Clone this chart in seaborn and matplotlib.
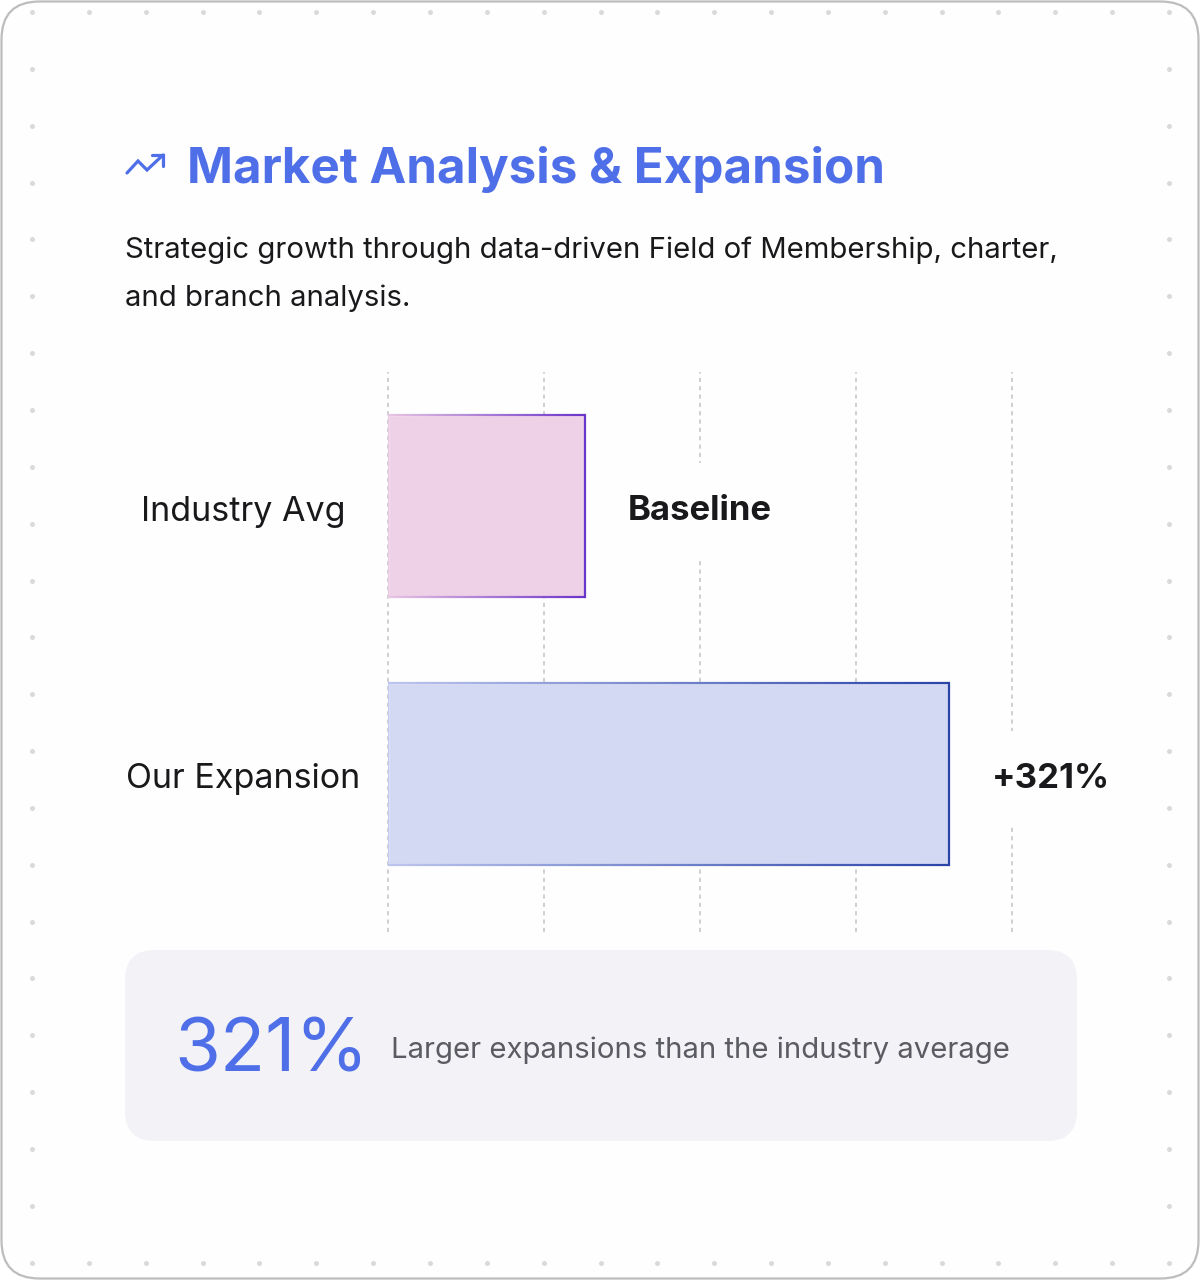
"""Market analysis card: horizontal bars with a stat panel underneath."""

import numpy as np
import pandas as pd
import matplotlib
matplotlib.use('Agg')
import matplotlib.pyplot as plt
import seaborn as sns
from matplotlib.collections import LineCollection
from matplotlib.colors import LinearSegmentedColormap
from matplotlib.patches import FancyBboxPatch
from matplotlib.transforms import ScaledTranslation

# ==================== DATA ====================
categories = ['Industry Avg', 'Our Expansion']
bar_values = [31.6, 89.9]
bar_labels = ['Baseline', '+321%']
grid_ticks = [0, 25, 50, 75, 100]
title = 'Market Analysis & Expansion'
subtitle = ['Strategic growth through data-driven Field of Membership, charter,',
            'and branch analysis.']
stat_value = '321%'
stat_text = 'Larger expansions than the industry average'

BLUE = '#4f6fe8'
INK = '#19191c'
PLATE = '#fefefe'
fills = ['#eed0e7', '#d4d9f3']
edge_starts = ['#e6c4e2', '#bcc5ee']
edge_ends = ['#6a35c9', '#2a44a8']

W, H = 1200, 1280


def px_axes(fig, left, top, right, bottom):
    """Add axes from pixel bounds measured from the top left corner."""
    return fig.add_axes([left / W, 1 - bottom / H, (right - left) / W, (bottom - top) / H])


def draw_card(bg):
    """Card outline and dotted edge."""
    bg.set_xlim(0, W)
    bg.set_ylim(H, 0)
    bg.axis('off')
    bg.add_patch(FancyBboxPatch((1.5, 1.5), W - 3, H - 3, boxstyle='round,pad=0,rounding_size=38',
                                fc=PLATE, ec='#bdbdbd', lw=1.6))
    xs = 32 + 56.85 * np.arange(21)
    ys = 12 + 56.85 * np.arange(23)
    dot_x = np.r_[xs, xs, np.full(21, xs[0]), np.full(21, xs[-1])]
    dot_y = np.r_[np.full(21, ys[0]), np.full(21, ys[-1]), ys[1:-1], ys[1:-1]]
    bg.scatter(dot_x, dot_y, s=13, color='#dadada', linewidths=0)


def draw_header(bg):
    """Trend icon, title and two line subtitle."""
    bg.plot([127, 138, 147, 163], [173, 161, 170, 155], color=BLUE, lw=2.3, solid_joinstyle='miter')
    bg.plot([152, 163, 163], [155, 155, 166], color=BLUE, lw=2.3, solid_joinstyle='miter')
    bg.text(187, 164.5, title, color=BLUE, fontsize=35.5, fontweight='bold', va='center_baseline')
    for text, y in zip(subtitle, [247, 295]):
        bg.text(125, y, text, color=INK, fontsize=21.1, va='center_baseline')


def draw_bars(ax):
    """Bars, dashed guides and labels, all on the data scale."""
    df = pd.DataFrame({'category': categories, 'value': bar_values})
    sns.barplot(data=df, y='category', x='value', hue='category', palette=fills, saturation=1,
                width=0.68, legend=False, ax=ax, zorder=3)
    ax.set_xlim(grid_ticks[0], grid_ticks[-1])
    ax.set_ylim(1.59, -0.5)
    ax.set_xlabel('')
    ax.set_ylabel('')
    ax.set_xticks(grid_ticks)
    ax.tick_params(axis='x', length=0, labelbottom=False)
    ax.tick_params(axis='y', length=0, pad=104, labelsize=24.5, labelcolor=INK)
    nudge = ScaledTranslation(0, -1.5 / 72, ax.figure.dpi_scale_trans)
    for label in ax.get_yticklabels():
        label.set_ha('center')
        label.set_va('center_baseline')
        label.set_transform(label.get_transform() + nudge)
    for spine in ax.spines.values():
        spine.set_visible(False)
    ax.patch.set_alpha(0)
    ax.grid(False)
    for tick in grid_ticks:
        ax.axvline(tick, color='#c9c5cc', lw=1.2, ls=(0, (2.5, 2.5)), zorder=1, clip_on=False)

    # gradient outline, light at the left end and dark at the right
    for patch, start, end in zip(ax.patches, edge_starts, edge_ends):
        cmap = LinearSegmentedColormap.from_list('edge', [start, end])
        x0, x1 = patch.get_x(), patch.get_x() + patch.get_width()
        y0, y1 = patch.get_y(), patch.get_y() + patch.get_height()
        steps = np.linspace(x0, x1, 120)
        for y in (y0, y1):
            segs = np.stack([np.c_[steps[:-1], np.full(119, y)], np.c_[steps[1:], np.full(119, y)]], axis=1)
            ax.add_collection(LineCollection(segs, colors=cmap(np.linspace(0, 1, 119)), lw=1.6, zorder=4))
        ax.plot([x1, x1], [y0, y1], color=end, lw=1.6, zorder=4, solid_capstyle='projecting')
        ax.plot([x0, x0], [y0, y1], color=start, lw=1.3, zorder=4)

    # bar end labels sit on a white plate that breaks the guide behind them
    for pos, (value, label) in enumerate(zip(bar_values, bar_labels)):
        ax.annotate(label, (value, pos), xytext=(31, -0.8), textcoords='offset points',
                    ha='left', va='center_baseline', fontsize=25, fontweight='bold', color=INK,
                    zorder=5, bbox=dict(fc=PLATE, ec='none', pad=23), annotation_clip=False)


def draw_stat(bg):
    """Rounded panel with the big number."""
    bg.add_patch(FancyBboxPatch((125, 950), 952, 191, boxstyle='round,pad=0,rounding_size=30',
                                fc='#f3f2f6', ec='none'))
    bg.text(174, 1045, stat_value, color=BLUE, fontsize=53.5, va='center_baseline')
    bg.text(391, 1047, stat_text, color='#5b5b63', fontsize=21.1, va='center_baseline')


def main():
    sns.set_theme(style='white')
    plt.rcParams['font.family'] = ['Inter', 'DejaVu Sans']
    fig = plt.figure(figsize=(12, 12.8), dpi=100, facecolor='white')
    bg = px_axes(fig, 0, 0, W, H)
    draw_card(bg)
    draw_header(bg)
    draw_stat(bg)
    ax = px_axes(fig, 388, 372, 1012, 932)
    draw_bars(ax)
    fig.savefig('out.png', dpi=100)


if __name__ == '__main__':
    main()
